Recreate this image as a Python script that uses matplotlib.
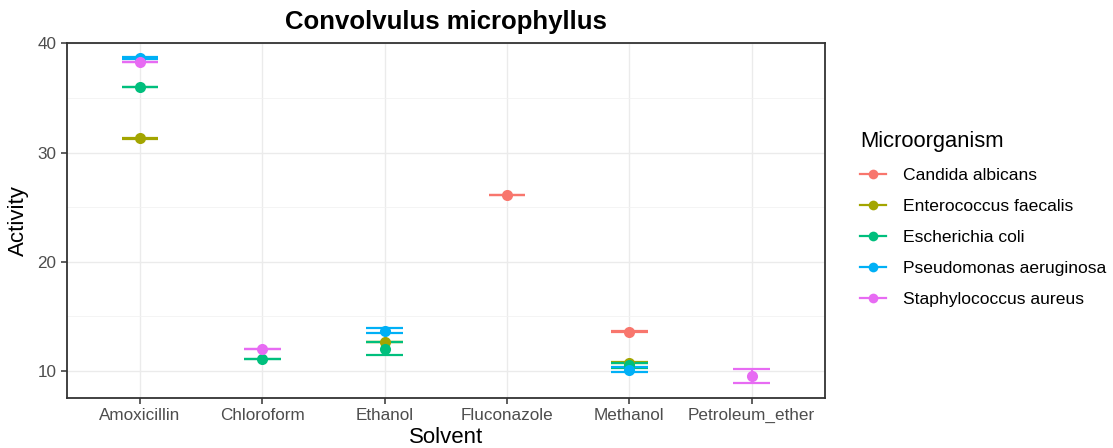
import numpy as np
import matplotlib.pyplot as plt
from matplotlib.lines import Line2D

plt.rcParams['font.family'] = ['Liberation Sans', 'DejaVu Sans']

# ---------------- data ----------------
solvents = ["Amoxicillin", "Chloroform", "Ethanol", "Fluconazole", "Methanol", "Petroleum_ether"]
organisms = ["Candida albicans", "Enterococcus faecalis", "Escherichia coli",
             "Pseudomonas aeruginosa", "Staphylococcus aureus"]
colors = ["#F8766D", "#A3A500", "#00BF7D", "#00B0F6", "#E76BF3"]

obs_solvent = ["Amoxicillin", "Amoxicillin", "Amoxicillin", "Amoxicillin",
               "Chloroform", "Chloroform",
               "Ethanol", "Ethanol", "Ethanol",
               "Fluconazole",
               "Methanol", "Methanol", "Methanol", "Methanol",
               "Petroleum_ether"]
obs_organism = ["Enterococcus faecalis", "Escherichia coli", "Pseudomonas aeruginosa", "Staphylococcus aureus",
                "Escherichia coli", "Staphylococcus aureus",
                "Enterococcus faecalis", "Escherichia coli", "Pseudomonas aeruginosa",
                "Candida albicans",
                "Candida albicans", "Enterococcus faecalis", "Escherichia coli", "Pseudomonas aeruginosa",
                "Staphylococcus aureus"]
obs_mean = [31.3, 36.0, 38.65, 38.3,
            11.1, 12.0,
            12.65, 12.05, 13.68,
            26.1,
            13.6, 10.75, 10.5, 10.1,
            9.55]
obs_sd = [0.03, 0.03, 0.1, 0.03,
          0.03, 0.02,
          0.03, 0.56, 0.23,
          0.02,
          0.02, 0.03, 0.2, 0.22,
          0.61]

CAP_W = 0.3

fig = plt.figure(figsize=(11.13, 4.48), dpi=100)
W, H = 1113, 448
ax = fig.add_axes([66.7 / W, (H - 397.7) / H, (825 - 66.7) / W, (397.7 - 43.3) / H])

xpos = {s: i + 1 for i, s in enumerate(solvents)}

for org, col in zip(organisms, colors):
    idx = [i for i, o in enumerate(obs_organism) if o == org]
    x = np.array([xpos[obs_solvent[i]] for i in idx], dtype=float)
    m = np.array([obs_mean[i] for i in idx])
    sd = np.array([obs_sd[i] for i in idx])
    ax.vlines(x, m - sd, m + sd, color=col, lw=1.6, zorder=3)
    ax.hlines(m - sd, x - CAP_W / 2, x + CAP_W / 2, color=col, lw=1.6, zorder=3)
    ax.hlines(m + sd, x - CAP_W / 2, x + CAP_W / 2, color=col, lw=1.6, zorder=3)
    ax.plot(x, m, "o", color=col, ms=8, mec="none", zorder=4)

ax.set_xlim(0.4, 6.6)
ax.set_ylim(7.55, 40.0)
ax.set_xticks(range(1, len(solvents) + 1))
ax.set_xticklabels(solvents)
ax.set_yticks([10, 20, 30, 40])
ax.set_yticks([15, 25, 35], minor=True)

ax.grid(True, which="major", color="#EBEBEB", lw=1.0, zorder=0)
ax.grid(True, which="minor", axis="y", color="#F2F2F2", lw=0.6, zorder=0)
ax.set_axisbelow(True)
for sp in ax.spines.values():
    sp.set_color("#333333")
    sp.set_linewidth(1.3)
ax.tick_params(axis="both", which="major", colors="#333333", labelcolor="#4D4D4D",
               labelsize=12.3, length=4, width=1.1)
ax.tick_params(axis="y", which="minor", length=0)

ax.set_xlabel("Solvent", fontsize=16, labelpad=3)
ax.set_ylabel("Activity", fontsize=16, labelpad=6)
ax.set_title("Convolvulus microphyllus", fontsize=18.5, fontweight="bold", pad=10)

handles = [Line2D([0], [0], color=c, lw=1.6, marker="o", ms=7, mec="none") for c in colors]
leg = fig.legend(handles, organisms, loc="upper left",
                 bbox_to_anchor=(860 / W, 1 - 131 / H), frameon=False,
                 title="Microorganism", title_fontsize=15.8, fontsize=12.6,
                 borderpad=0, borderaxespad=0, handlelength=1.5,
                 handletextpad=0.95, labelspacing=0.9, alignment="left")

fig.savefig("out.png", dpi=100)
